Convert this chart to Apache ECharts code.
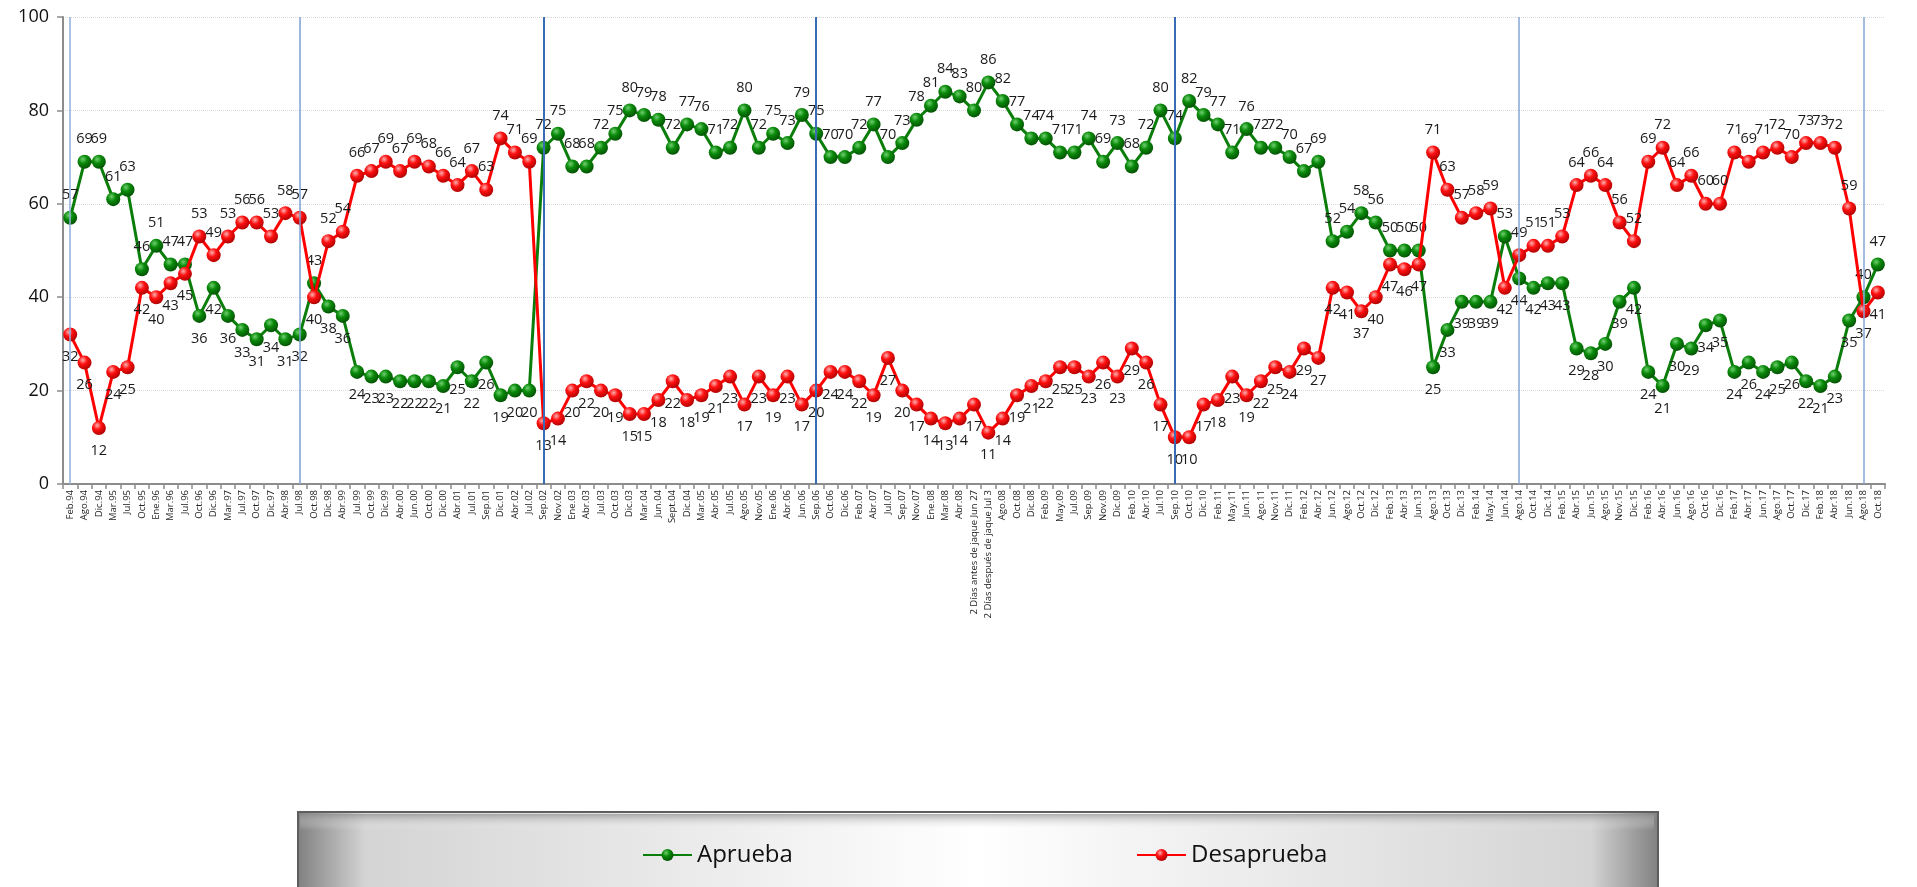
<!DOCTYPE html>
<html><head><meta charset="utf-8">
<script src="https://cdn.jsdelivr.net/npm/echarts@6/dist/echarts.min.js"></script>
<style>html,body{margin:0;padding:0;background:#fff}#c{width:1917px;height:887px}</style>
</head><body><div id="c"></div>
<script>
const categories = ["Feb.94","Ago.94","Dic.94","Mar.95","Jul.95","Oct.95","Ene.96","Mar.96","Jul.96","Oct.96",
"Dic.96","Mar.97","Jul.97","Oct.97","Dic.97","Abr.98","Jul.98","Oct.98","Dic.98","Abr.99",
"Jul.99","Oct.99","Dic.99","Abr.00","Jun.00","Oct.00","Dic.00","Abr.01","Jul.01","Sep.01",
"Dic.01","Abr.02","Jul.02","Sep.02","Nov.02","Ene.03","Abr.03","Jul.03","Oct.03","Dic.03",
"Mar.04","Jun.04","Sept.04","Dic.04","Mar.05","Abr.05","Jul.05","Ago.05","Nov.05","Ene.06",
"Abr.06","Jun.06","Sep.06","Oct.06","Dic.06","Feb.07","Abr.07","Jul.07","Sep.07","Nov.07",
"Ene.08","Mar.08","Abr.08","2 Días antes de jaque Jun 27","2 Días después de jaque Jul 3","Ago.08","Oct.08","Dic.08","Feb.09","May.09",
"Jul.09","Sep.09","Nov.09","Dic.09","Feb.10","Abr.10","Jul.10","Sep.10","Oct.10","Dic.10",
"Feb.11","May.11","Jun.11","Ago.11","Nov.11","Dic.11","Feb.12","Abr.12","Jun.12","Ago.12",
"Oct.12","Dic.12","Feb.13","Abr.13","Jun.13","Ago.13","Oct.13","Dic.13","Feb.14","May.14",
"Jun.14","Ago.14","Oct.14","Dic.14","Feb.15","Abr.15","Jun.15","Ago.15","Nov.15","Dic.15",
"Feb.16","Abr.16","Jun.16","Ago.16","Oct.16","Dic.16","Feb.17","Abr.17","Jun.17","Ago.17",
"Oct.17","Dic.17","Feb.18","Abr.18","Jun.18","Ago.18","Oct.18"];

const aprueba = [57,69,69,61,63,46,51,47,47,36,
42,36,33,31,34,31,32,43,38,36,
24,23,23,22,22,22,21,25,22,26,
19,20,20,72,75,68,68,72,75,80,
79,78,72,77,76,71,72,80,72,75,
73,79,75,70,70,72,77,70,73,78,
81,84,83,80,86,82,77,74,74,71,
71,74,69,73,68,72,80,74,82,79,
77,71,76,72,72,70,67,69,52,54,
58,56,50,50,50,25,33,39,39,39,
53,44,42,43,43,29,28,30,39,42,
24,21,30,29,34,35,24,26,24,25,
26,22,21,23,35,40,47];

const desaprueba = [32,26,12,24,25,42,40,43,45,53,
49,53,56,56,53,58,57,40,52,54,
66,67,69,67,69,68,66,64,67,63,
74,71,69,13,14,20,22,20,19,15,
15,18,22,18,19,21,23,17,23,19,
23,17,20,24,24,22,19,27,20,17,
14,13,14,17,11,14,19,21,22,25,
25,23,26,23,29,26,17,10,10,17,
18,23,19,22,25,24,29,27,42,41,
37,40,47,46,47,71,63,57,58,59,
42,49,51,51,53,64,66,64,56,52,
69,72,64,66,60,60,71,69,71,72,
70,73,73,72,59,37,41];

const markerCats = ["Feb.94","Jul.98","Sep.02","Sep.06","Sep.10","Ago.14","Ago.18"];
const yMin = 0, yMax = 100, yStep = 20;

const FONT = "Open Sans";
function sphere(light, mid, dark) {
  return new echarts.graphic.RadialGradient(0.38, 0.32, 0.75, [
    {offset: 0, color: light}, {offset: 0.4, color: mid}, {offset: 1, color: dark}
  ]);
}
function buildData(vals, other) {
  return vals.map((v, i) => ({
    value: v,
    label: {position: v >= other[i] ? 'top' : 'bottom'}
  }));
}
const markerColors = ['#8eaedb','#7e9fd2','#3a6cb5','#3a6cb5','#3a6cb5','#84a6d6','#84a6d6'];
const markerWidths = [1.5,1.5,2,2,2,1.5,1.5];

const chart = echarts.init(document.getElementById('c'));
chart.setOption({
  animation: false,
  backgroundColor: '#ffffff',
  grid: {left: 63, right: 32, top: 17, bottom: 403, containLabel: false},
  xAxis: {
    type: 'category', data: categories, boundaryGap: true,
    axisLine: {lineStyle: {color: '#8c8c8c', width: 2}},
    axisTick: {show: true, length: 5, lineStyle: {color: '#8c8c8c', width: 1.5}},
    axisLabel: {rotate: 90, interval: 0, margin: 6, fontFamily: FONT, fontSize: 9.5, color: '#222'}
  },
  yAxis: {
    type: 'value', min: yMin, max: yMax, interval: yStep,
    axisLine: {show: true, lineStyle: {color: '#8c8c8c', width: 2}},
    axisTick: {show: true, length: 6, lineStyle: {color: '#8c8c8c', width: 1.5}},
    axisLabel: {margin: 14, fontFamily: FONT, fontSize: 18, color: '#111'},
    splitLine: {show: true, lineStyle: {color: '#d9d9d9', type: 'dotted', width: 1}}
  },
  legend: [
    {data: ['Aprueba'], left: 637, top: 838, itemWidth: 49, itemHeight: 15, itemGap: 6,
     textStyle: {fontFamily: FONT, fontSize: 24, color: '#111'}, z: 10},
    {data: ['Desaprueba'], left: 1131, top: 838, itemWidth: 49, itemHeight: 15, itemGap: 6,
     textStyle: {fontFamily: FONT, fontSize: 24, color: '#111'}, z: 10}
  ],
  graphic: [
    {type: 'rect', z: 0, left: 297, top: 811, shape: {width: 1360, height: 90},
     style: {fill: new echarts.graphic.LinearGradient(0, 0, 1, 0, [
        {offset: 0, color: '#808080'}, {offset: 0.05, color: '#d4d4d4'}, {offset: 0.5, color: '#ffffff'},
        {offset: 0.95, color: '#d4d4d4'}, {offset: 1, color: '#808080'}]),
       stroke: '#5e5e5e', lineWidth: 2}},
    {type: 'rect', z: 1, left: 300, top: 814, shape: {width: 1354, height: 16},
     style: {fill: new echarts.graphic.LinearGradient(0, 0, 0, 1, [
        {offset: 0, color: 'rgba(140,140,140,0.7)'}, {offset: 1, color: 'rgba(255,255,255,0)'}])}}
  ],
  series: [
    {
      name: 'Aprueba', type: 'line', data: buildData(aprueba, desaprueba),
      symbol: 'circle', symbolSize: 14,
      lineStyle: {color: '#0a7d0a', width: 3},
      itemStyle: {color: sphere('#6fd06f', '#0a8a0a', '#034a03'), borderWidth: 0},
      label: {show: true, distance: 8, fontFamily: FONT, fontSize: 14.5, color: '#1a1a1a'},
      z: 3,
      markLine: {
        silent: true, symbol: 'none', label: {show: false},
        data: markerCats.map((c, i) => ({xAxis: c, lineStyle: {color: markerColors[i], width: markerWidths[i], type: 'solid'}}))
      }
    },
    {
      name: 'Desaprueba', type: 'line', data: buildData(desaprueba, aprueba),
      symbol: 'circle', symbolSize: 14,
      lineStyle: {color: '#ff0000', width: 3},
      itemStyle: {color: sphere('#ffb0b0', '#ff1010', '#a30000'), borderWidth: 0},
      label: {show: true, distance: 8, fontFamily: FONT, fontSize: 14.5, color: '#1a1a1a'},
      z: 4
    }
  ]
});
</script></body></html>
